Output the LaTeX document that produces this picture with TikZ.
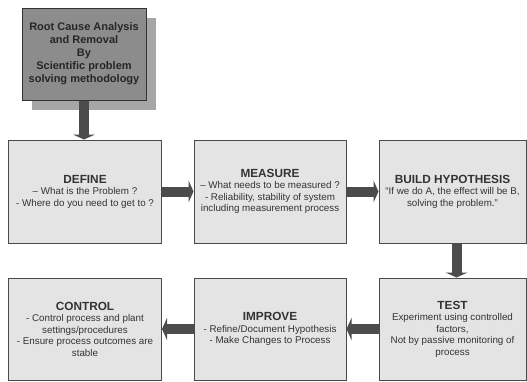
\documentclass[tikz,border=0pt]{standalone}
\usepackage{fontspec}
\setmainfont{Liberation Sans}
\usetikzlibrary{arrows.meta,shadows}
\definecolor{boxfill}{HTML}{E4E4E4}
\definecolor{boxline}{HTML}{4A4A4A}
\definecolor{rootfill}{HTML}{8C8C8C}
\definecolor{rootshade}{HTML}{A6A6A6}
\definecolor{flowarrow}{HTML}{4C4C4C}
\tikzset{every picture/.style={line width=0.75pt}}
\tikzset{
  stagebox/.style={draw=boxline, fill=boxfill, line width=1pt, align=center,
    text=black!80, font=\fontsize{9.8}{11.5}\selectfont, inner sep=0pt},
  rootbox/.style={draw=black!80, fill=rootfill, line width=1pt, align=center,
    text=black!85, font=\fontsize{11}{13}\selectfont\bfseries,
    minimum width=124pt, minimum height=92pt,
    drop shadow={shadow xshift=10pt, shadow yshift=-10pt, fill=rootshade, opacity=1}},
  flow/.style={draw=flowarrow, line width=10pt,
    -{Triangle[length=5pt,width=22pt,fill=flowarrow]}, shorten >=0pt}
}
\newcommand{\stagetitle}[1]{{\fontsize{11.8}{13}\selectfont\bfseries #1}}
\begin{document}
\begin{tikzpicture}[x=1pt,y=-1pt]
\useasboundingbox (0,0) rectangle (527,381);
%
\node[rootbox] (root) at (84,54) {Root Cause Analysis\\and Removal\\By\\Scientific problem\\solving methodology};
%
\node[stagebox, minimum width=153pt, minimum height=103pt] (define) at (85,191.5)
  {\stagetitle{DEFINE}\\-- What is the Problem ?\\- Where do you need to get to ?};
\node[stagebox, minimum width=152pt, minimum height=103pt] (measure) at (270,191.5)
  {\stagetitle{MEASURE}\\-- What needs to be measured ?\\- Reliability, stability of system\\including measurement process};
\node[stagebox, minimum width=147pt, minimum height=103pt] (build) at (452.5,191.5)
  {\stagetitle{BUILD HYPOTHESIS}\\``If we do A, the effect will be B,\\solving the problem.''};
%
\node[stagebox, minimum width=153pt, minimum height=102pt] (control) at (85,329)
  {\stagetitle{CONTROL}\\- Control process and plant\\settings/procedures\\- Ensure process outcomes are\\stable};
\node[stagebox, minimum width=152pt, minimum height=102pt] (improve) at (270,329)
  {\stagetitle{IMPROVE}\\- Refine/Document Hypothesis\\- Make Changes to Process};
\node[stagebox, minimum width=147pt, minimum height=102pt] (test) at (452.5,329)
  {\stagetitle{TEST}\\Experiment using controlled\\factors,\\Not by passive monitoring of\\process};
%
\draw[flow] (root.south) -- (root.south |- define.north);
\draw[flow] (define.east) -- (measure.west);
\draw[flow] (measure.east) -- (build.west);
\draw[flow] ([xshift=4pt]build.south) -- ([xshift=4pt]test.north);
\draw[flow] (test.west) -- (improve.east);
\draw[flow] (improve.west) -- (control.east);
\end{tikzpicture}
\end{document}
